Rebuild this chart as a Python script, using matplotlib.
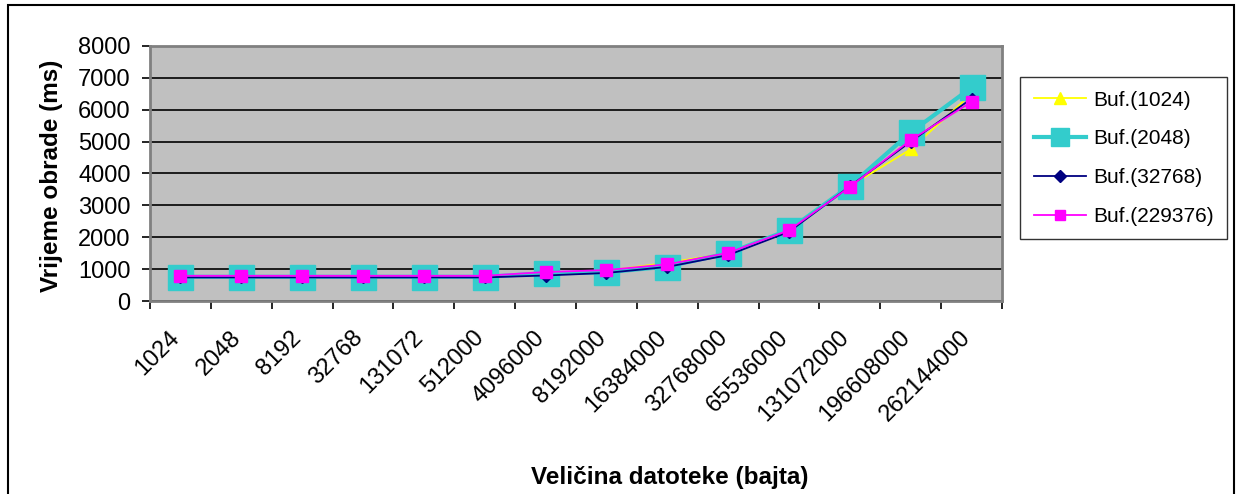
import numpy as np
import matplotlib.pyplot as plt
import matplotlib.transforms as mtransforms
from matplotlib.patches import Rectangle

plt.rcParams['font.family'] = ['Liberation Sans', 'DejaVu Sans']

sizes = ['1024', '2048', '8192', '32768', '131072', '512000', '4096000',
         '8192000', '16384000', '32768000', '65536000', '131072000',
         '196608000', '262144000']

buf_1024 = [770, 770, 770, 770, 770, 770, 860, 950, 1200, 1500, 2200, 3600, 4760, 6500]
buf_2048 = [760, 760, 760, 760, 760, 760, 870, 900, 1080, 1500, 2230, 3610, 5290, 6700]
buf_32768 = [740, 740, 740, 740, 740, 740, 800, 880, 1070, 1440, 2170, 3600, 5000, 6350]
buf_229376 = [790, 790, 790, 790, 790, 790, 910, 970, 1150, 1510, 2220, 3580, 5050, 6250]

W, H = 1236, 494
fig = plt.figure(figsize=(W / 100, H / 100), dpi=100)
ax = fig.add_axes([150 / W, 1 - 301 / H, 852 / W, 255 / H])

x = np.arange(len(sizes))

ax.plot(x, buf_1024, color='#FFFF00', lw=1.3, marker='^', ms=9,
        mec='#FFFF00', label='Buf.(1024)', zorder=3)
ax.plot(x, buf_2048, color='#33CCCC', lw=3, marker='s', ms=18,
        mec='#33CCCC', label='Buf.(2048)', zorder=4)
ax.plot(x, buf_32768, color='#000080', lw=1.3, marker='D', ms=6.5,
        mec='#000080', label='Buf.(32768)', zorder=5)
ax.plot(x, buf_229376, color='#FF00FF', lw=1.3, marker='s', ms=8.5,
        mec='#FF00FF', label='Buf.(229376)', zorder=6)

ax.set_facecolor('#C0C0C0')
ax.set_xlim(-0.5, len(sizes) - 0.5)
ax.set_ylim(0, 8000)
ax.set_yticks(np.arange(0, 8001, 1000))
ax.tick_params(axis='y', labelsize=17, length=6, width=1.2, direction='out', pad=8)
ax.yaxis.grid(True, color='black', lw=1.2)
ax.set_axisbelow(True)

ax.set_xticks(x)
ax.set_xticklabels(sizes, rotation=45, ha='right', va='center',
                   rotation_mode='anchor', fontsize=17)
ax.tick_params(axis='x', which='major', length=0, pad=24)
ax.set_xticks(np.arange(-0.5, len(sizes)), minor=True)
ax.tick_params(axis='x', which='minor', length=6, width=1.2, direction='out')
shift = mtransforms.ScaledTranslation(-4 / 100, 0, fig.dpi_scale_trans)
for lbl in ax.get_xticklabels():
    lbl.set_transform(lbl.get_transform() + shift)

for s in ax.spines.values():
    s.set_color('#808080')
    s.set_linewidth(2)

fig.text(52 / W, 1 - 176 / H, 'Vrijeme obrade (ms)', rotation=90,
         ha='center', va='center', fontsize=17.5, fontweight='bold')
fig.text(670 / W, 1 - 477 / H, 'Veli\u010dina datoteke (bajta)',
         ha='center', va='center', fontsize=17.5, fontweight='bold')

leg = ax.legend(loc='upper left', bbox_to_anchor=(1020 / W, 1 - 77 / H),
                bbox_transform=fig.transFigure, borderaxespad=0,
                fancybox=False, edgecolor='black', fontsize=15,
                handlelength=2.5, labelspacing=0.95, borderpad=0.65,
                handletextpad=0.35)
leg.get_frame().set_linewidth(1)
for h, ms in zip(leg.legend_handles, [9, 12.5, 6.5, 7.5]):
    h.set_markersize(ms)

fig.patches.append(Rectangle((8 / W, -0.1), (1234 - 8) / W, 1.1 - 5 / H,
                             transform=fig.transFigure, fill=False,
                             edgecolor='black', lw=1.5, clip_on=False))

fig.savefig('out.png', dpi=100)
